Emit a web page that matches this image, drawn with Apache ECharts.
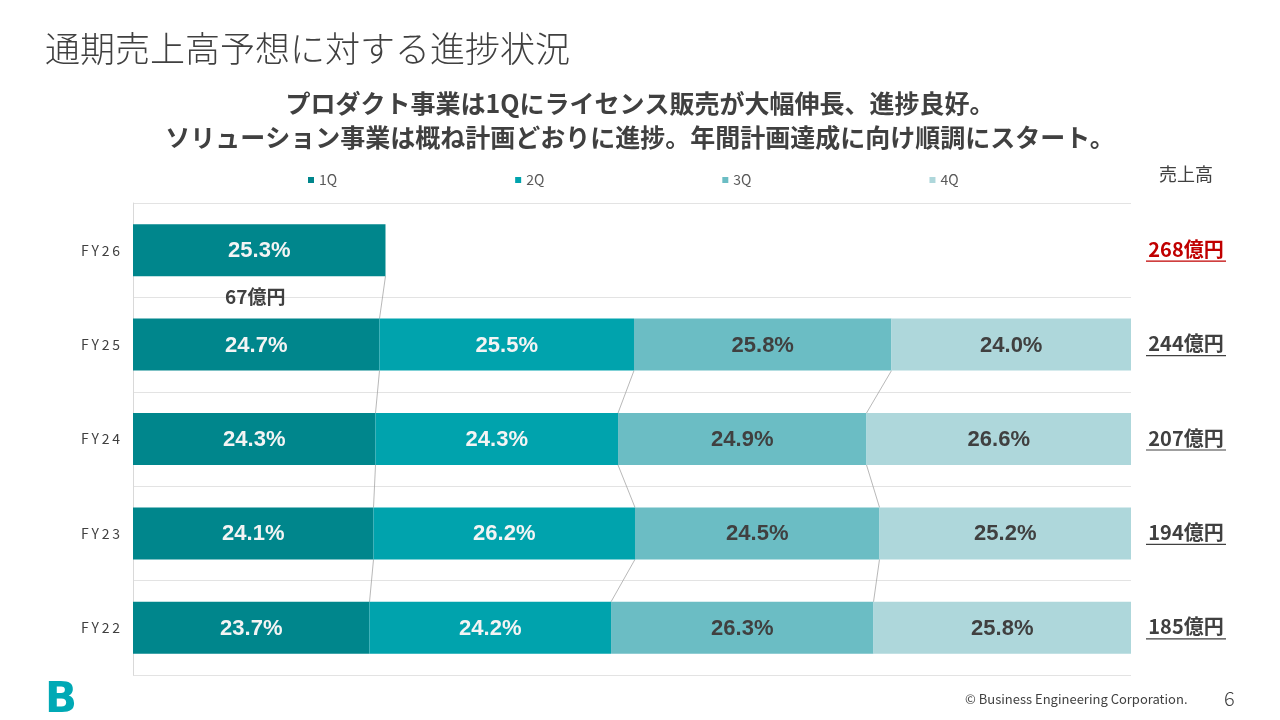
<!DOCTYPE html>
<html>
<head>
<meta charset="utf-8">
<script src="https://cdn.jsdelivr.net/npm/echarts@6/dist/echarts.min.js"></script>
<style>
  html, body { margin: 0; padding: 0; background: #fff; }
  #chart { width: 1280px; height: 720px; }
</style>
</head>
<body>
<div id="chart"></div>
<script>
// データ（下から上へ FY22 → FY26）
var years = ['FY22', 'FY23', 'FY24', 'FY25', 'FY26'];
var q1 = [23.7, 24.1, 24.3, 24.7, 25.3];
var q2 = [24.2, 26.2, 24.3, 25.5, null];
var q3 = [26.3, 24.5, 24.9, 25.8, null];
var q4 = [25.8, 25.2, 26.6, 24.0, null];
var sales = [185, 194, 207, 244, 268];   // 売上高（億円）
var fy26Q1Amount = 67;                     // FY26 1Q 実績（億円）

var quarterNames = ['1Q', '2Q', '3Q', '4Q'];
var quarterColors = ['#00868c', '#00a3ad', '#6bbdc4', '#aed7db'];
var quarterData = [q1, q2, q3, q4];
var font = '"Noto Sans CJK JP", "Noto Sans", sans-serif';

// 累計（系列線用）
function cumAt(i, k) {
    var s = 0;
    for (var j = 0; j <= k; j++) {
        if (quarterData[j][i] == null) return null;
        s += quarterData[j][i];
    }
    return s;
}
var seriesLineData = [];
for (var i = years.length - 1; i > 0; i--) {
    for (var k = 0; k < 3; k++) {
        var up = cumAt(i, k), lo = cumAt(i - 1, k);
        if (up != null && lo != null) seriesLineData.push([i, i - 1, up, lo]);
    }
}

var myChart = echarts.init(document.getElementById('chart'));
var barW = 52;

var barSeries = quarterData.map(function (d, k) {
    return {
        name: quarterNames[k],
        type: 'bar',
        stack: 'total',
        data: d,
        barWidth: barW,
        itemStyle: { color: quarterColors[k] },
        label: {
            show: true,
            position: 'inside',
            offset: [0, 1],
            formatter: function (p) { return p.value.toFixed(1) + '%'; },
            color: k < 2 ? '#f4f4f4' : '#404040',
            fontFamily: '"Liberation Sans", Arial, sans-serif',
            fontWeight: 'bold',
            fontSize: 22
        },
        z: 3
    };
});

var option = {
    backgroundColor: '#ffffff',
    animation: false,
    textStyle: { fontFamily: font },
    legend: {
        data: quarterNames,
        left: 303,
        top: 168,
        icon: 'rect',
        itemWidth: 6,
        itemHeight: 6,
        itemGap: 178,
        textStyle: { color: '#595959', fontSize: 14, fontFamily: font }
    },
    grid: { left: 133, right: 149, top: 203, bottom: 45 },
    xAxis: {
        type: 'value',
        min: 0,
        max: 100,
        show: false
    },
    yAxis: {
        type: 'category',
        data: years,
        axisLine: { show: true, lineStyle: { color: '#d9d9d9' } },
        axisTick: { show: false },
        splitLine: { show: true, lineStyle: { color: '#e3e3e3' } },
        axisLabel: {
            margin: 13,
            color: '#404040',
            fontSize: 14,
            fontFamily: font,
            formatter: function (v) { return v.split('').join('\u2009'); }
        }
    },
    graphic: [
        {
            type: 'text', left: 45, top: 31,
            style: { text: '通期売上高予想に対する進捗状況', fill: '#404040', fontSize: 35, fontFamily: font, fontWeight: 300 }
        },
        {
            type: 'text', left: 'center', top: 91,
            style: {
                text: 'プロダクト事業は1Qにライセンス販売が大幅伸長、進捗良好。',
                fill: '#404040', fontSize: 25, fontWeight: 'bold', fontFamily: font
            }
        },
        {
            type: 'text', left: 'center', top: 125,
            style: {
                text: 'ソリューション事業は概ね計画どおりに進捗。年間計画達成に向け順調にスタート。',
                fill: '#404040', fontSize: 25, fontWeight: 'bold', fontFamily: font
            }
        },
        {
            type: 'text', left: 1159, top: 165,
            style: { text: '売上高', fill: '#404040', fontSize: 18, fontFamily: font }
        },
        {
            type: 'text', left: 45, top: 680,
            style: { text: 'B', fill: '#00a9b5', fontSize: 42, fontWeight: 900, fontFamily: '"DejaVu Sans", sans-serif' }
        },
        {
            type: 'text', left: 965, top: 693,
            style: { text: '© Business Engineering Corporation.', fill: '#404040', fontSize: 13, fontFamily: font }
        },
        {
            type: 'text', left: 1224, top: 688,
            style: { text: '6', fill: '#404040', fontSize: 20, fontFamily: font, fontWeight: 300 }
        }
    ],
    series: barSeries.concat([
        {
            // 系列線
            type: 'custom',
            coordinateSystem: 'cartesian2d',
            clip: false,
            silent: true,
            z: 2,
            data: seriesLineData,
            encode: { x: 2, y: 0 },
            renderItem: function (params, api) {
                var a = api.coord([api.value(2), api.value(0)]);
                var b = api.coord([api.value(3), api.value(1)]);
                return {
                    type: 'line',
                    shape: { x1: a[0], y1: a[1] + barW / 2, x2: b[0], y2: b[1] - barW / 2 },
                    style: { stroke: '#a6a6a6', lineWidth: 0.8 }
                };
            }
        },
        {
            // 売上高ラベル（右側）
            type: 'custom',
            coordinateSystem: 'cartesian2d',
            clip: false,
            silent: true,
            data: sales.map(function (v, i) { return [100, i, v]; }),
            encode: { x: 0, y: 1 },
            renderItem: function (params, api) {
                var p = api.coord([api.value(0), api.value(1)]);
                var isLast = params.dataIndex === years.length - 1;
                var c = isLast ? '#c00000' : '#404040';
                var cx = p[0] + 55;
                return {
                    type: 'group',
                    children: [
                        {
                            type: 'text',
                            style: {
                                text: api.value(2) + '億円', x: cx, y: p[1] - 1,
                                fill: c, fontSize: 20, fontWeight: 'bold', fontFamily: font,
                                align: 'center', verticalAlign: 'middle'
                            }
                        },
                        {
                            type: 'line',
                            shape: { x1: cx - 40, y1: p[1] + 11, x2: cx + 40, y2: p[1] + 11 },
                            style: { stroke: c, lineWidth: 1.2 }
                        }
                    ]
                };
            }
        },
        {
            // FY26 1Q 金額
            type: 'custom',
            coordinateSystem: 'cartesian2d',
            clip: false,
            silent: true,
            data: [[q1[4] / 2, 4, fy26Q1Amount]],
            encode: { x: 0, y: 1 },
            renderItem: function (params, api) {
                var p = api.coord([api.value(0), api.value(1)]);
                return {
                    type: 'text',
                    style: {
                        text: api.value(2) + '億円', x: p[0] - 4, y: p[1] + 47,
                        fill: '#404040', fontSize: 19, fontWeight: 'bold', fontFamily: font,
                        align: 'center', verticalAlign: 'middle'
                    }
                };
            }
        }
    ])
};

myChart.setOption(option);
</script>
</body>
</html>
